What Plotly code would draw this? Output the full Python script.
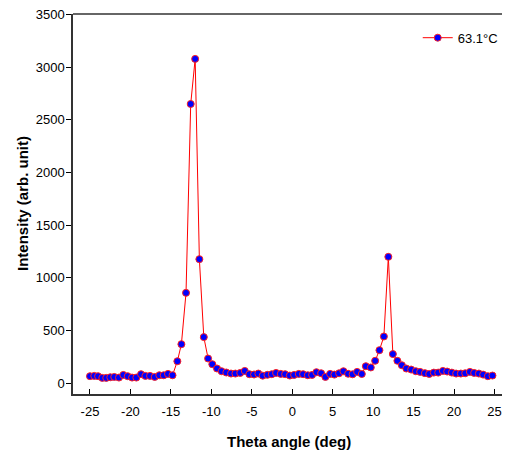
import plotly.graph_objects as go

theta = [-25.0, -24.47, -24.0, -23.48, -22.99, -22.49, -22.0, -21.42, -20.88, -20.34,
         -19.8, -19.27, -18.69, -18.15, -17.58, -17.0, -16.43, -15.89, -15.36, -14.8,
         -14.2, -13.7, -13.13, -12.55, -12.0, -11.48, -10.93, -10.4, -9.88, -9.3,
         -8.73, -8.15, -7.57, -7.03, -6.43, -5.87, -5.3, -4.72, -4.19, -3.65,
         -3.07, -2.53, -2.0, -1.42, -0.88, -0.3, 0.23, 0.81, 1.34, 1.92,
         2.45, 2.99, 3.57, 4.1, 4.68, 5.21, 5.79, 6.33, 6.91, 7.46,
         8.02, 8.6, 9.1, 9.71, 10.25, 10.78, 11.33, 11.88, 12.44, 13.0,
         13.55, 14.1, 14.7, 15.28, 15.81, 16.4, 16.93, 17.5, 18.04, 18.62,
         19.15, 19.73, 20.26, 20.84, 21.38, 21.96, 22.49, 23.07, 23.6, 24.18,
         24.75]

intensity = [67, 70, 67, 51, 51, 57, 60, 54, 79, 67,
             54, 54, 86, 70, 70, 60, 76, 76, 89, 76,
             209, 371, 858, 2651, 3079, 1178, 438, 235, 181, 140,
             114, 102, 92, 92, 98, 117, 86, 83, 92, 72,
             80, 86, 98, 89, 86, 73, 79, 89, 86, 76,
             79, 105, 95, 60, 89, 82, 95, 114, 90, 85,
             108, 88, 162, 150, 213, 314, 444, 1200, 277, 213,
             171, 140, 130, 114, 108, 96, 88, 101, 101, 117,
             111, 101, 92, 92, 95, 108, 98, 92, 82, 67,
             73]

series_name = "63.1°C"
x_ticks = [-25, -20, -15, -10, -5, 0, 5, 10, 15, 20, 25]
y_ticks = [0, 500, 1000, 1500, 2000, 2500, 3000, 3500]
x_title = "Theta angle (deg)"
y_title = "Intensity (arb. unit)"

FONT = "Liberation Sans, Arial, Helvetica, sans-serif"

fig = go.Figure()
fig.add_trace(go.Scatter(
    x=theta, y=intensity, mode="lines+markers", name=series_name,
    line=dict(color="#ff0000", width=1),
    marker=dict(color="#0000ff", size=7, line=dict(color="#ff2020", width=1)),
))

# page body has an 8px margin, so the figure is sized to fit the 510x458 window
fig.update_layout(
    width=502, height=450,
    margin=dict(l=65, r=5, t=6, b=64),
    paper_bgcolor="white", plot_bgcolor="white",
    font=dict(family=FONT, size=13, color="black"),
    showlegend=True,
    legend=dict(x=0.798, y=0.977, xanchor="left", yanchor="top",
                bgcolor="rgba(0,0,0,0)", font=dict(size=13),
                itemwidth=30, tracegroupgap=0),
    xaxis=dict(
        range=[-27.1, 26.3], tickvals=x_ticks, ticktext=[str(v) for v in x_ticks],
        showgrid=False, zeroline=False, automargin=False,
        showline=True, linecolor="#333333", linewidth=1.5,
        ticks="inside", ticklen=5, tickcolor="black", tickwidth=1,
        ticklabelstandoff=5, ticklabeloverflow="allow",
    ),
    yaxis=dict(
        range=[-102, 3505], tickvals=y_ticks, ticktext=[str(v) for v in y_ticks],
        showgrid=False, zeroline=False, automargin=False,
        showline=True, linecolor="#333333", linewidth=1.5,
        ticks="outside", ticklen=5, tickcolor="black", tickwidth=1,
        ticklabelstandoff=-1, ticklabeloverflow="allow",
    ),
    shapes=[
        dict(type="line", xref="paper", yref="paper", x0=0, x1=1, y0=1, y1=1,
             line=dict(color="#333333", width=1.5), layer="above"),
    ],
    annotations=[
        dict(text="<b>" + x_title + "</b>", xref="paper", yref="paper",
             x=0.5, y=-0.126, xanchor="center", yanchor="middle",
             showarrow=False, font=dict(size=15)),
        dict(text="<b>" + y_title + "</b>", xref="paper", yref="paper",
             x=-0.118, y=0.5, xanchor="center", yanchor="middle", textangle=-90,
             showarrow=False, font=dict(size=15)),
    ],
)

fig.write_html("out.html")
